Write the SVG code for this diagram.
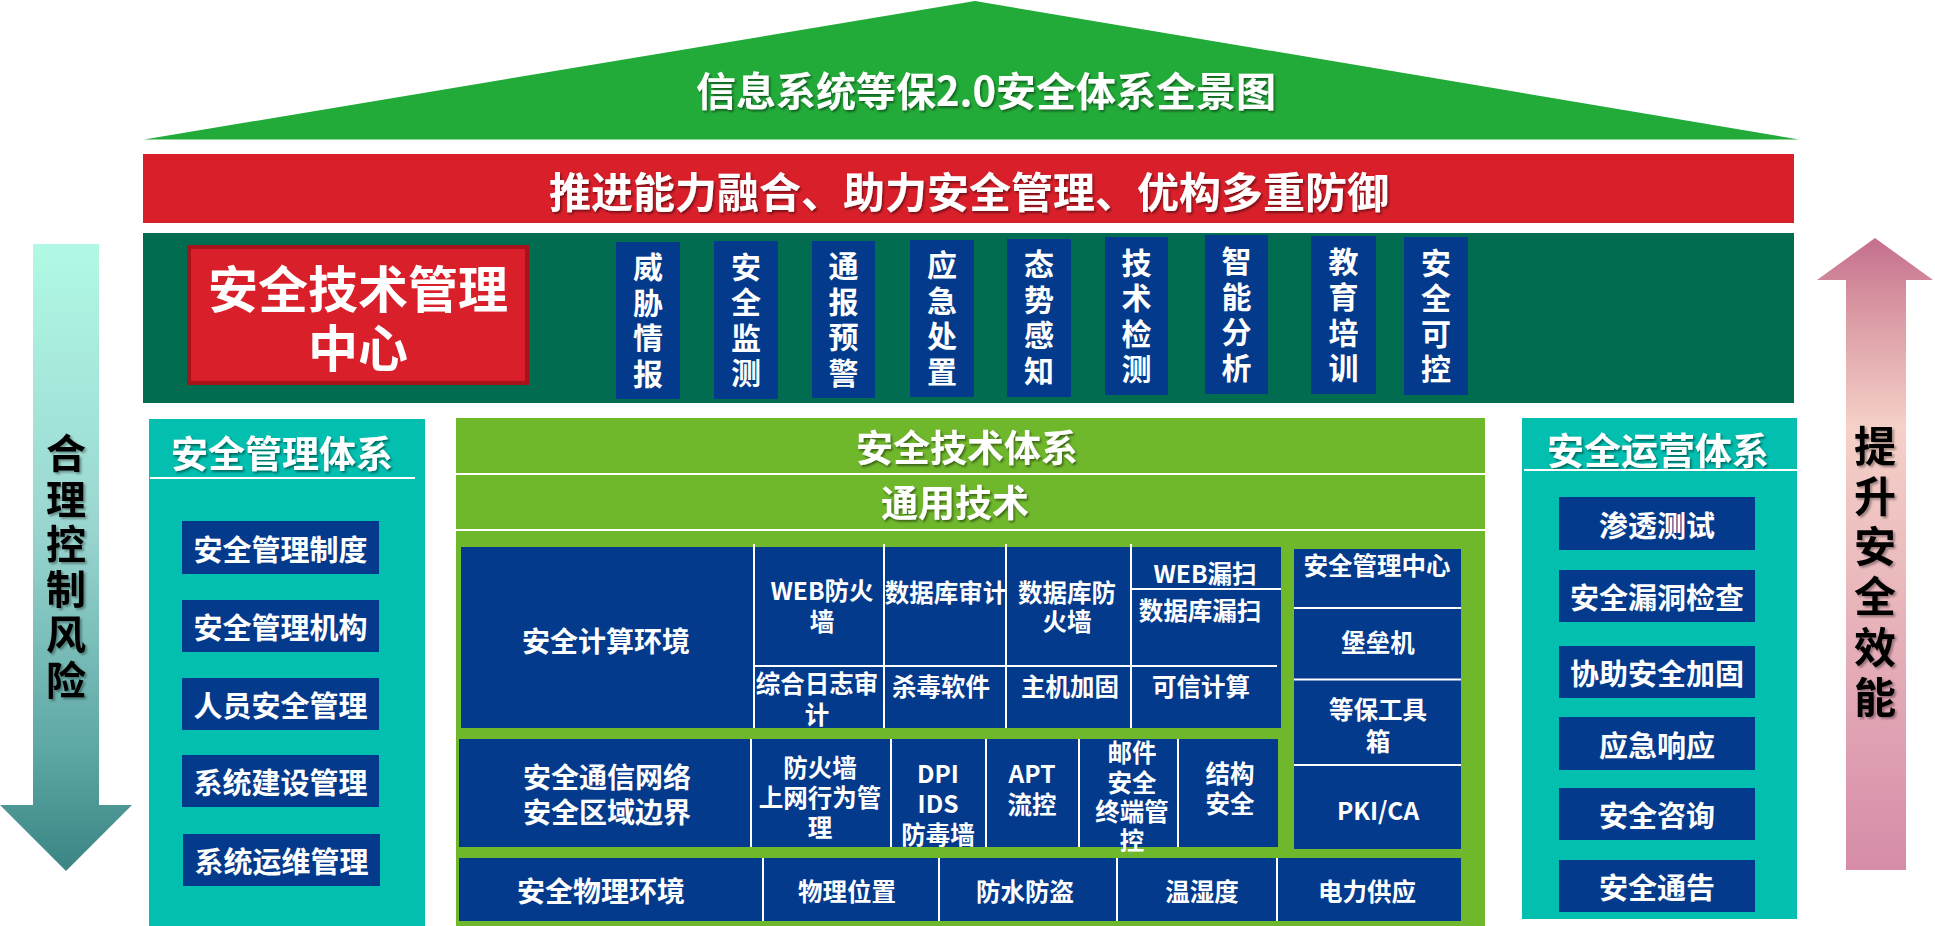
<svg xmlns="http://www.w3.org/2000/svg" width="1935" height="926" viewBox="0 0 1935 926">
<defs>
<linearGradient id="gLeft" gradientUnits="userSpaceOnUse" x1="0" y1="244" x2="0" y2="871">
<stop offset="0" stop-color="#B1F9E5"/>
<stop offset="0.45" stop-color="#9AD6D0"/>
<stop offset="0.8" stop-color="#5EA8A6"/>
<stop offset="1" stop-color="#3A8583"/>
</linearGradient>
<linearGradient id="gRight" gradientUnits="userSpaceOnUse" x1="0" y1="238" x2="0" y2="870">
<stop offset="0" stop-color="#C46F8E"/>
<stop offset="0.1" stop-color="#D7939F"/>
<stop offset="0.3" stop-color="#F5D1C8"/>
<stop offset="1" stop-color="#D68CA8"/>
</linearGradient>
<filter id="sh" x="-5%" y="-20%" width="110%" height="150%">
<feDropShadow dx="1.5" dy="2" stdDeviation="0.8" flood-color="#000" flood-opacity="0.45"/>
</filter>
<filter id="shg" x="-20%" y="-5%" width="140%" height="110%">
<feDropShadow dx="2" dy="2" stdDeviation="1" flood-color="#000" flood-opacity="0.35"/>
</filter>
</defs>
<style>
text{font-family:"Noto Sans CJK SC","Microsoft YaHei","Noto Sans",sans-serif;font-weight:700;fill:#fff;text-anchor:middle;dominant-baseline:central}
.v{writing-mode:vertical-rl}
.blue{fill:#033A8C}
.teal{fill:#02BFB0}
.lg{fill:#6FB82C}
.wl{stroke:#fff;stroke-width:2;fill:none}
.t42{font-size:42px}
.t40{font-size:40px}
.t38{font-size:37px}
.t29{font-size:29px}
.t28{font-size:28px}
.t25{font-size:24.5px}
.t30{font-size:30px;letter-spacing:5.5px}
.blk{fill:#000}
</style>

<g id="roof">
<polygon points="144,139.5 975,1 1799,139.5" fill="#23AB39"/>
<text class="t40" x="986" y="89" filter="url(#sh)">信息系统等保2.0安全体系全景图</text>
</g>

<g id="banner">
<rect x="143" y="154" width="1651" height="69" fill="#D91F2A"/>
<text class="t42" x="969" y="189" filter="url(#sh)">推进能力融合、助力安全管理、优构多重防御</text>
</g>

<g id="center-band">
<rect x="143" y="233" width="1651" height="170" fill="#016C4F"/>
</g>

<g id="tech-mgmt-center">
<rect x="189" y="247" width="338" height="136" fill="#D91F29" stroke="#A7131B" stroke-width="4"/>
<text style="font-size:50px"><tspan x="358" y="286">安全技术管理</tspan><tspan x="358" y="345">中心</tspan></text>
</g>

<g id="center-items">
<g id="c1"><rect class="blue" x="616" y="242" width="64" height="157"/><text class="t30 v" x="648" y="323">威胁情报</text></g>
<g id="c2"><rect class="blue" x="714" y="241" width="64" height="158"/><text class="t30 v" x="746" y="322.5">安全监测</text></g>
<g id="c3"><rect class="blue" x="812" y="241" width="63" height="157"/><text class="t30 v" x="843.5" y="322">通报预警</text></g>
<g id="c4"><rect class="blue" x="910" y="240" width="64" height="157"/><text class="t30 v" x="942" y="321">应急处置</text></g>
<g id="c5"><rect class="blue" x="1007" y="239" width="64" height="158"/><text class="t30 v" x="1039" y="320">态势感知</text></g>
<g id="c6"><rect class="blue" x="1105" y="237" width="63" height="158"/><text class="t30 v" x="1136.5" y="318.5">技术检测</text></g>
<g id="c7"><rect class="blue" x="1205" y="235" width="63" height="159"/><text class="t30 v" x="1236.5" y="317">智能分析</text></g>
<g id="c8"><rect class="blue" x="1311" y="236" width="65" height="158"/><text class="t30 v" x="1343.5" y="317.5">教育培训</text></g>
<g id="c9"><rect class="blue" x="1404" y="237" width="64" height="158"/><text class="t30 v" x="1436" y="318.5">安全可控</text></g>
</g>

<g id="arrow-left">
<path d="M33,244 H99 V805 H132 L66,871 L0,805 H33 Z" fill="url(#gLeft)"/>
<text class="t40 blk v" x="66" y="569" style="letter-spacing:5.3px" filter="url(#shg)">合理控制风险</text>
</g>

<g id="arrow-right">
<path d="M1846,870 V280 H1817 L1875,238 L1933,280 H1906 V870 Z" fill="url(#gRight)"/>
<text class="blk v" x="1875" y="575.5" style="font-size:42px;letter-spacing:8.2px" filter="url(#shg)">提升安全效能</text>
</g>

<g id="mgmt-system">
<rect class="teal" x="149" y="419" width="276" height="507"/>
<text class="t38" x="282" y="452" filter="url(#sh)">安全管理体系</text>
<line class="wl" x1="150" y1="478" x2="415" y2="478"/>
<g class="t29">
<g id="m1"><rect class="blue" x="182" y="521" width="197" height="53"/><text x="280.5" y="547.5">安全管理制度</text></g>
<g id="m2"><rect class="blue" x="182" y="600" width="197" height="52"/><text x="280.5" y="626">安全管理机构</text></g>
<g id="m3"><rect class="blue" x="182" y="678" width="197" height="52"/><text x="280.5" y="704">人员安全管理</text></g>
<g id="m4"><rect class="blue" x="182" y="755" width="197" height="52"/><text x="280.5" y="781">系统建设管理</text></g>
<g id="m5"><rect class="blue" x="183" y="834" width="197" height="52"/><text x="281.5" y="860">系统运维管理</text></g>
</g>
</g>

<g id="tech-system">
<rect class="lg" x="456" y="418" width="1029" height="508"/>
<line class="wl" x1="456" y1="474" x2="1485" y2="474" stroke-width="2.5"/>
<line class="wl" x1="456" y1="530" x2="1485" y2="530" stroke-width="2.5"/>
<text class="t38" x="967" y="445.5" filter="url(#sh)">安全技术体系</text>
<text class="t38" x="955" y="501" filter="url(#sh)">通用技术</text>
</g>

<g id="computing-env">
<rect class="blue" x="461" y="547" width="820" height="181"/>
<path class="wl" d="M754,544 V728 M884,544 V728 M1006,544 V728 M1131,544 V728 M754,666 H1277 M1132,589 H1281"/>
<text class="t28" x="606" y="640">安全计算环境</text>
<g class="t25">
<text><tspan x="822" y="589">WEB防火</tspan><tspan x="822" y="620">墙</tspan></text>
<text x="946" y="591">数据库审计</text>
<text><tspan x="1067" y="591">数据库防</tspan><tspan x="1067" y="620">火墙</tspan></text>
<text><tspan x="1205" y="572">WEB漏扫</tspan><tspan x="1200" y="609">数据库漏扫</tspan></text>
<text><tspan x="817" y="682">综合日志审</tspan><tspan x="817" y="713">计</tspan></text>
<text x="941" y="685">杀毒软件</text>
<text x="1070" y="685">主机加固</text>
<text x="1201" y="685">可信计算</text>
</g>
</g>

<g id="network-env">
<rect class="blue" x="459" y="739" width="819" height="108"/>
<path class="wl" d="M751,739 V847 M891,739 V847 M986,739 V847 M1079,739 V847 M1178,739 V847"/>
<text class="t28"><tspan x="607" y="776">安全通信网络</tspan><tspan x="607" y="811">安全区域边界</tspan></text>
<g class="t25">
<text><tspan x="820" y="766">防火墙</tspan><tspan x="820" y="796">上网行为管</tspan><tspan x="820" y="826">理</tspan></text>
<text><tspan x="938" y="772">DPI</tspan><tspan x="938" y="802">IDS</tspan><tspan x="938" y="833">防毒墙</tspan></text>
<text><tspan x="1032" y="772">APT</tspan><tspan x="1032" y="803">流控</tspan></text>
<text><tspan x="1132" y="751">邮件</tspan><tspan x="1132" y="781">安全</tspan><tspan x="1132" y="810">终端管</tspan><tspan x="1132" y="839">控</tspan></text>
<text><tspan x="1230" y="772">结构</tspan><tspan x="1230" y="802">安全</tspan></text>
</g>
</g>

<g id="physical-env">
<rect class="blue" x="459" y="858" width="1002" height="63"/>
<path class="wl" d="M763,858 V921 M939,858 V921 M1117,858 V921 M1277,858 V921"/>
<text class="t28" x="601" y="890">安全物理环境</text>
<g class="t25">
<text x="847" y="890">物理位置</text>
<text x="1025" y="890">防水防盗</text>
<text x="1202" y="890">温湿度</text>
<text x="1367" y="890">电力供应</text>
</g>
</g>

<g id="mgmt-center-col">
<rect class="blue" x="1294" y="549" width="167" height="300"/>
<path class="wl" d="M1294,608 H1461 M1294,679.5 H1461 M1294,765 H1461"/>
<g class="t25">
<text x="1377" y="564">安全管理中心</text>
<text x="1378" y="641">堡垒机</text>
<text><tspan x="1378" y="708">等保工具</tspan><tspan x="1378" y="739.5">箱</tspan></text>
<text x="1378" y="809">PKI/CA</text>
</g>
</g>

<g id="ops-system">
<rect class="teal" x="1522" y="418" width="275" height="501"/>
<text class="t38" x="1658" y="448.5" filter="url(#sh)">安全运营体系</text>
<line class="wl" x1="1524" y1="470" x2="1797" y2="470"/>
<g class="t29">
<g id="o1"><rect class="blue" x="1559" y="497" width="196" height="53"/><text x="1657" y="523.5">渗透测试</text></g>
<g id="o2"><rect class="blue" x="1559" y="570" width="196" height="52"/><text x="1657" y="596">安全漏洞检查</text></g>
<g id="o3"><rect class="blue" x="1559" y="646" width="196" height="52"/><text x="1657" y="672">协助安全加固</text></g>
<g id="o4"><rect class="blue" x="1559" y="717" width="196" height="53"/><text x="1657" y="743.5">应急响应</text></g>
<g id="o5"><rect class="blue" x="1559" y="788" width="196" height="52"/><text x="1657" y="814">安全咨询</text></g>
<g id="o6"><rect class="blue" x="1559" y="860" width="196" height="52"/><text x="1657" y="886">安全通告</text></g>
</g>
</g>
</svg>
